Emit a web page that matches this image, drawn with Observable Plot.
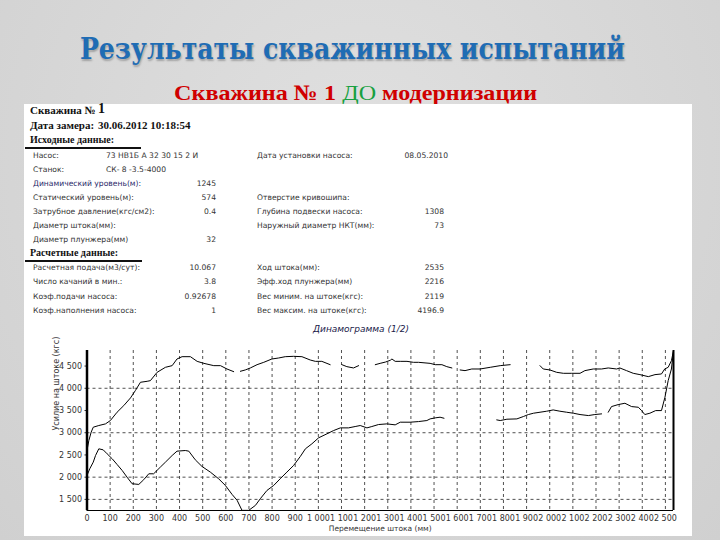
<!DOCTYPE html>
<html><head><meta charset="utf-8">
<script src="https://cdn.jsdelivr.net/npm/d3@7"></script>
<script src="https://cdn.jsdelivr.net/npm/@observablehq/plot@0.6"></script>
<style>
html,body{margin:0;padding:0;}
body{width:720px;height:540px;overflow:hidden;position:relative;background:#d6d6d6;}
.abs{position:absolute;white-space:nowrap;}
#bg{left:0;top:0;width:720px;height:540px;background:radial-gradient(ellipse at 50% 30%,#e0e0e0,#d0d0d0);}
#title{left:-8px;top:31px;width:720px;text-align:center;}
#title span{display:inline-block;font:bold 30px "DejaVu Serif",serif;color:#1f6cb4;text-shadow:1px 2px 2px rgba(0,0,0,0.25);transform-origin:center;}
#subtitle{left:-4px;top:80px;width:720px;text-align:center;}
#subtitle span.w{display:inline-block;font:bold 22px "Liberation Serif",serif;color:#d00000;transform-origin:center;}
#subtitle .g{color:#17a040;font-weight:normal;}
#panel{left:24px;top:104px;width:668px;height:432px;background:#fff;}
.hb{font:bold 11px "Liberation Serif",serif;color:#111;}
.lab{font:7.6px "DejaVu Sans",sans-serif;color:#333;}
.rule{height:2px;background:#111;}
#ctitle{font:italic 9px "DejaVu Sans",sans-serif;color:#1a1a4a;}
#chart{left:24px;top:322px;}
</style></head>
<body>
<div id="bg" class="abs"></div>
<div id="title" class="abs"><span id="t1">Результаты скважинных испытаний</span></div>
<div id="subtitle" class="abs"><span class="w" id="t2">Скважина № 1 <span class="g">ДО</span> модернизации</span></div>
<div id="panel" class="abs"></div>
<div id="form"></div>
<div id="ctitle" class="abs" style="left:313px;top:324px;">Динамограмма (1/2)</div>
<div id="chart" class="abs"></div>
<script>
// ---- form data ----
const wellNo = "1";
const measureDate = "30.06.2012 10:18:54";
const srcLabels = ["Насос:", "Станок:", "Динамический уровень(м):", "Статический уровень(м):", "Затрубное давление(кгс/см2):", "Диаметр штока(мм):", "Диаметр плунжера(мм)"];
const srcValues = ["73 НВ1Б А 32 30 15 2 И", "СК- 8 -3.5-4000", "1245", "574", "0.4", "", "32"];
const srcRightLabels = ["Дата установки насоса:", "", "", "Отверстие кривошипа:", "Глубина подвески насоса:", "Наружный диаметр НКТ(мм):", ""];
const srcRightValues = ["08.05.2010", "", "", "", "1308", "73", ""];
const calcLabels = ["Расчетная подача(м3/сут):", "Число качаний в мин.:", "Коэф.подачи насоса:", "Коэф.наполнения насоса:"];
const calcValues = ["10.067", "3.8", "0.92678", "1"];
const calcRightLabels = ["Ход штока(мм):", "Эфф.ход плунжера(мм)", "Вес миним. на штоке(кгс):", "Вес максим. на штоке(кгс):"];
const calcRightValues = ["2535", "2216", "2119", "4196.9"];

// ---- chart data: [displacement (mm), load (kgf)], null = gap ----
const upstroke = [[0,2600],[8,2825],[18,3012],[27,3124],[51,3162],[80,3199],[101,3274],[130,3461],[159,3611],[188,3783],[209,3948],[231,4135],[260,4157],[274,4172],[303,4359],[339,4472],[368,4509],[389,4659],[411,4711],[447,4711],[476,4606],[505,4561],[548,4509],[577,4509],[605,4434],[634,4374],[648,null],[663,4382],[684,4412],[706,4457],[735,4531],[764,4584],[799,4659],[828,4681],[857,4711],[893,4719],[929,4711],[965,4636],[987,4606],[1015,4606],[1051,4531],[1075,null],[1102,4531],[1123,4487],[1152,4457],[1174,4509],[1210,null],[1246,4531],[1267,4561],[1290,4590],[1311,4630],[1318,4659],[1332,4606],[1354,4606],[1383,4606],[1411,4584],[1433,4584],[1483,4561],[1505,4531],[1534,4531],[1555,4487],[1577,4457],[1595,null],[1613,4412],[1634,4397],[1663,4434],[1699,4434],[1743,4472],[1786,4509],[1829,4531],[1900,null],[1958,4509],[1972,4434],[2001,4412],[2030,4359],[2059,4337],[2095,4337],[2131,4337],[2152,4397],[2188,4434],[2224,4434],[2253,4457],[2289,4434],[2303,4457],[2332,4397],[2361,4337],[2390,4307],[2426,4262],[2455,4307],[2483,4322],[2497,4434],[2512,4472],[2526,4621],[2535,4846]];
const downstroke = [[0,2039],[12,2189],[27,2338],[37,2488],[51,2638],[70,2615],[87,2525],[109,2413],[130,2286],[152,2151],[173,2001],[195,1852],[224,1837],[245,1942],[267,2076],[288,2076],[317,2226],[339,2338],[368,2488],[389,2585],[425,2600],[440,2585],[468,2391],[497,2241],[533,2114],[569,1964],[598,1814],[627,1612],[649,1478],[670,1253],[699,1253],[728,1365],[749,1515],[778,1702],[807,1814],[835,1964],[864,2114],[893,2263],[922,2466],[944,2638],[972,2750],[1001,2885],[1037,2975],[1066,3049],[1095,3109],[1130,3109],[1159,3139],[1181,3162],[1210,3109],[1231,3139],[1260,3184],[1296,3199],[1332,3177],[1354,3237],[1397,3237],[1433,3251],[1469,3274],[1483,3311],[1505,3334],[1526,3349],[1543,3326],[1650,null],[1771,3289],[1786,3274],[1815,3304],[1858,3311],[1886,3364],[1908,3409],[1930,3439],[1958,3461],[1987,3484],[2015,3513],[2044,3484],[2073,3461],[2102,3439],[2131,3409],[2167,3386],[2195,3409],[2224,3424],[2238,null],[2253,3461],[2267,3588],[2296,3633],[2325,3663],[2354,3588],[2383,3573],[2397,3498],[2411,3409],[2433,3439],[2458,3498],[2483,3498],[2498,3798],[2512,4172],[2526,4434],[2535,4846]];
const xTicks = d3.range(0, 2501, 100);
const yTicks = [1500, 2000, 2500, 3000, 3500, 4000, 4500];
const yGrid = [1500, 2000, 3000, 4000];
const xLabel = "Перемещение штока (мм)";
const yLabel = "Усилие на штоке (кгс)";

// ---- fit title widths ----
function fit(id, target){const el=document.getElementById(id);const w=el.getBoundingClientRect().width;el.style.transform=`scaleX(${target/w})`;}
fit("t1", 545); fit("t2", 363);

// ---- form ----
const form = document.getElementById("form");
function add(cls, text, left, top, right){
  const d=document.createElement("div");d.className="abs "+cls;d.textContent=text;
  d.style.top=top+"px";
  if(right!==undefined){d.style.right=(720-right)+"px";} else d.style.left=left+"px";
  form.appendChild(d);return d;
}
add("hb","Скважина №",30,104);
const n1=add("hb",wellNo,98,101);n1.style.fontSize="14px";
add("hb","Дата замера:",30,119);
add("hb",measureDate,98,119);
add("hb","Исходные данные:",30,134).style.fontSize="10px";
let r=add("rule","",25,147);r.style.width="116px";
srcLabels.forEach((t,i)=>{
  const y=151+i*14;
  const l=add("lab",t,33,y);
  if(i===2) l.style.color="#2a2a6a";
  if(srcValues[i]){ if(i<2) add("lab",srcValues[i],106,y); else add("lab",srcValues[i],0,y,216); }
  if(srcRightLabels[i]) add("lab",srcRightLabels[i],257,y);
  if(srcRightValues[i]) add("lab",srcRightValues[i],0,y,i===0?448:444);
});
add("hb","Расчетные данные:",30,247).style.fontSize="10px";
r=add("rule","",25,260);r.style.width="117px";
calcLabels.forEach((t,i)=>{
  const y=263+i*14.3;
  add("lab",t,33,y);
  add("lab",calcValues[i],0,y,216);
  add("lab",calcRightLabels[i],257,y);
  add("lab",calcRightValues[i],0,y,444);
});

// ---- chart ----
const fmt = d => d >= 1000 ? d3.format(",")(d).replace(/,/g, " ") : String(d);
const toRows = a => a.map(([x, y]) => ({x, y}));
const chart = Plot.plot({
  width: 668, height: 218,
  marginLeft: 62.5, marginRight: 19, marginTop: 28, marginBottom: 30,
  x: {domain: [0, 2535]},
  y: {domain: [1250, 4850]},
  style: {fontFamily: "DejaVu Sans, sans-serif", fontSize: "8px", color: "#333", background: "transparent", overflow: "visible"},
  marks: [
    Plot.gridX(xTicks.filter(d => d > 0), {stroke: "#333", strokeOpacity: 0.85, strokeDasharray: "3,3"}),
    Plot.gridY(yGrid, {stroke: "#333", strokeOpacity: 0.85, strokeDasharray: "3,3"}),
    Plot.axisX(xTicks, {tickFormat: fmt, tickSize: 0, tickPadding: 5, label: null}),
    Plot.axisY(yTicks, {tickFormat: fmt, tickSize: 2, tickPadding: 3, label: null}),
    Plot.text([xLabel], {frameAnchor: "bottom", dy: 20, fontSize: 7.5, fill: "#333"}),
    Plot.text([yLabel], {frameAnchor: "left", dx: -31, rotate: -90, fontSize: 8, fill: "#333"}),
    Plot.ruleY([1250], {stroke: "#000", strokeWidth: 1}),
    Plot.line(toRows(upstroke), {x: "x", y: "y", stroke: "#000", strokeWidth: 1}),
    Plot.line(toRows(downstroke), {x: "x", y: "y", stroke: "#000", strokeWidth: 1}),
    Plot.ruleX([0], {stroke: "#000", strokeWidth: 2.5}),
    Plot.ruleX([2535], {stroke: "#000", strokeWidth: 2})
  ]
});
document.getElementById("chart").appendChild(chart);
</script>
</body></html>
